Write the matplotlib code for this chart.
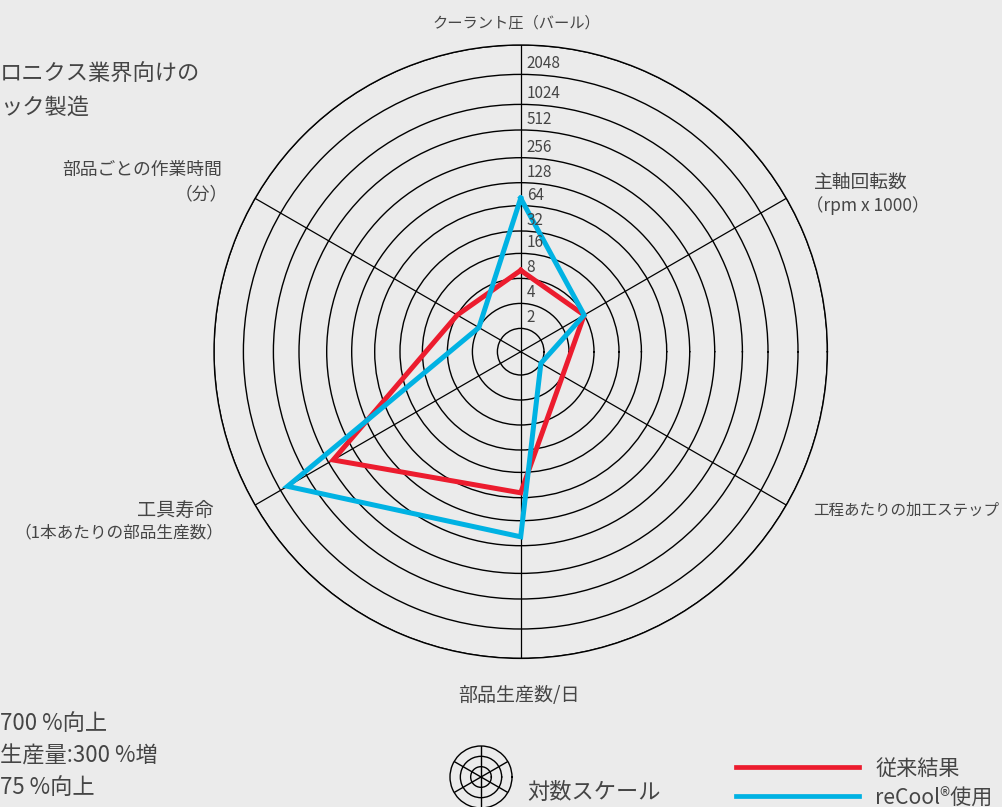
import numpy as np
import matplotlib
matplotlib.use("Agg")
import matplotlib.pyplot as plt

plt.rcParams['font.family'] = ['Noto Sans CJK JP', 'DejaVu Sans']

# ---------------- data ----------------
categories = ['クーラント圧（バール）', '主軸回転数', '工程あたりの加工ステップ',
              '部品生産数/日', '工具寿命', '部品ごとの作業時間']
category_subs = ['', '（rpm x 1000）', '', '', '（1本あたりの部品生産数）', '（分）']
conventional = [10, 8, 4, 56, 450, 8]        # 従来結果
recool = [80, 8, 2, 200, 1700, 4]            # reCool®使用
series_names = ['従来結果', 'reCool®使用']
ring_values = [2, 4, 8, 16, 32, 64, 128, 256, 512, 1024, 2048, 4096]
ring_labels = ['2', '4', '8', '16', '32', '64', '128', '256', '512', '1024', '2048']
title_lines = ['ロニクス業界向けの', 'ック製造']
note_lines = ['700 %向上', '生産量:300 %増', '75 %向上']
scale_note = '対数スケール'

# ---------------- style ----------------
BG = '#ebebeb'
TXT = '#454545'
RED = '#ec1c2e'
BLUE = '#00b2e3'
W_PX, H_PX = 1003, 807

# measured radii (px) of the drawn log2 rings (hand drawn, slightly uneven)
RING_PX = np.array([0, 23.3, 48.3, 73.3, 98.3, 120.7, 146, 169, 194, 221.7,
                    247.3, 277.3, 306.7])
LEVELS = np.arange(len(RING_PX), dtype=float)


def fwd(v):
    v = np.asarray(v, dtype=float)
    lv = np.log2(np.where(v > 0, v, 1e-300))
    return np.interp(lv, LEVELS, RING_PX)


def inv(x):
    x = np.asarray(x, dtype=float)
    return 2.0 ** np.interp(x, RING_PX, LEVELS)


def fx(x):
    return x / W_PX


def fy(y):
    return 1 - y / H_PX


fig = plt.figure(figsize=(W_PX / 100, H_PX / 100), dpi=100, facecolor=BG)

cx, cy, R = 520.7, 351.7, 306.7
ax = fig.add_axes([fx(cx - R), fy(cy + R), 2 * R / W_PX, 2 * R / H_PX],
                  projection='polar')
ax.set_facecolor('none')
ax.set_rscale('function', functions=(fwd, inv))
ax.set_ylim(1, ring_values[-1])

angles_deg = [90, 30, -30, -90, -150, 150]
theta = np.deg2rad(angles_deg)
ax.set_xticks(np.deg2rad([30, 90, 150, 210, 270, 330]))
ax.set_xticklabels([])
ax.set_yticks(ring_values)
ax.set_yticklabels([])
ax.tick_params(length=0)
ax.xaxis.grid(True, color='black', linewidth=0.9)
ax.yaxis.grid(True, color='black', linewidth=1.0)
ax.spines['polar'].set_color('black')
ax.spines['polar'].set_linewidth(1.0)

th_c = np.append(theta, theta[0])
l_red, = ax.plot(th_c, conventional + conventional[:1], color=RED, lw=3.6,
                 solid_joinstyle='miter', zorder=3, label=series_names[0])
l_blue, = ax.plot(th_c, recool + recool[:1], color=BLUE, lw=3.6,
                  solid_joinstyle='miter', zorder=4, label=series_names[1])

for v, lab in zip(ring_values, ring_labels):
    ax.annotate(lab, xy=(np.pi / 2, v), xytext=(6, 6), textcoords='offset pixels',
                ha='left', va='baseline', fontsize=11, color=TXT, zorder=5)

# category labels
fig.text(fx(516), fy(23), categories[0], ha='center', va='center', fontsize=11, color=TXT)
fig.text(fx(814), fy(183), categories[1], ha='left', va='center', fontsize=13.5, color=TXT)
fig.text(fx(806), fy(206), category_subs[1], ha='left', va='center', fontsize=12.5, color=TXT)
fig.text(fx(813), fy(510), categories[2], ha='left', va='center', fontsize=11.2, color=TXT)
fig.text(fx(519), fy(696), categories[3], ha='center', va='center', fontsize=13.7, color=TXT)
fig.text(fx(214), fy(510), categories[4], ha='right', va='center', fontsize=13.8, color=TXT)
fig.text(fx(223), fy(533), category_subs[4], ha='right', va='center', fontsize=12, color=TXT)
fig.text(fx(222), fy(170), categories[5], ha='right', va='center', fontsize=12.8, color=TXT)
fig.text(fx(228), fy(194), category_subs[5], ha='right', va='center', fontsize=12.8, color=TXT)

# title (cut at the left edge) and notes
for i, t in enumerate(title_lines):
    fig.text(0, fy(74 + 33 * i), t, ha='left', va='center', fontsize=16, color=TXT)
for i, t in enumerate(note_lines):
    fig.text(0, fy(724 + 32 * i), t, ha='left', va='center', fontsize=16, color=TXT)

# log-scale icon
ir = 31
axi = fig.add_axes([fx(481 - ir), fy(777 + ir), 2 * ir / W_PX, 2 * ir / H_PX],
                   projection='polar')
axi.set_facecolor('none')
axi.set_ylim(0, 3)
axi.set_yticks([1, 2])
axi.set_yticklabels([])
axi.set_xticks(np.deg2rad([30, 90, 150, 210, 270, 330]))
axi.set_xticklabels([])
axi.tick_params(length=0)
axi.xaxis.grid(True, color='black', linewidth=1.0)
axi.yaxis.grid(True, color='black', linewidth=1.0)
axi.spines['polar'].set_color('black')
axi.spines['polar'].set_linewidth(1.0)
fig.text(fx(527), fy(792), scale_note, ha='left', va='center', fontsize=16, color=TXT)

# legend
leg = fig.legend(handles=[l_red, l_blue], loc='center left',
                 bbox_to_anchor=(fx(736), fy(783)), frameon=False,
                 fontsize=15.2, handlelength=5.85, handletextpad=0.75,
                 labelspacing=0.33, borderpad=0, borderaxespad=0)
for t in leg.get_texts():
    t.set_color(TXT)
for h in leg.legend_handles:
    h.set_linewidth(3.4)

fig.savefig('out.png', dpi=100, facecolor=BG)
